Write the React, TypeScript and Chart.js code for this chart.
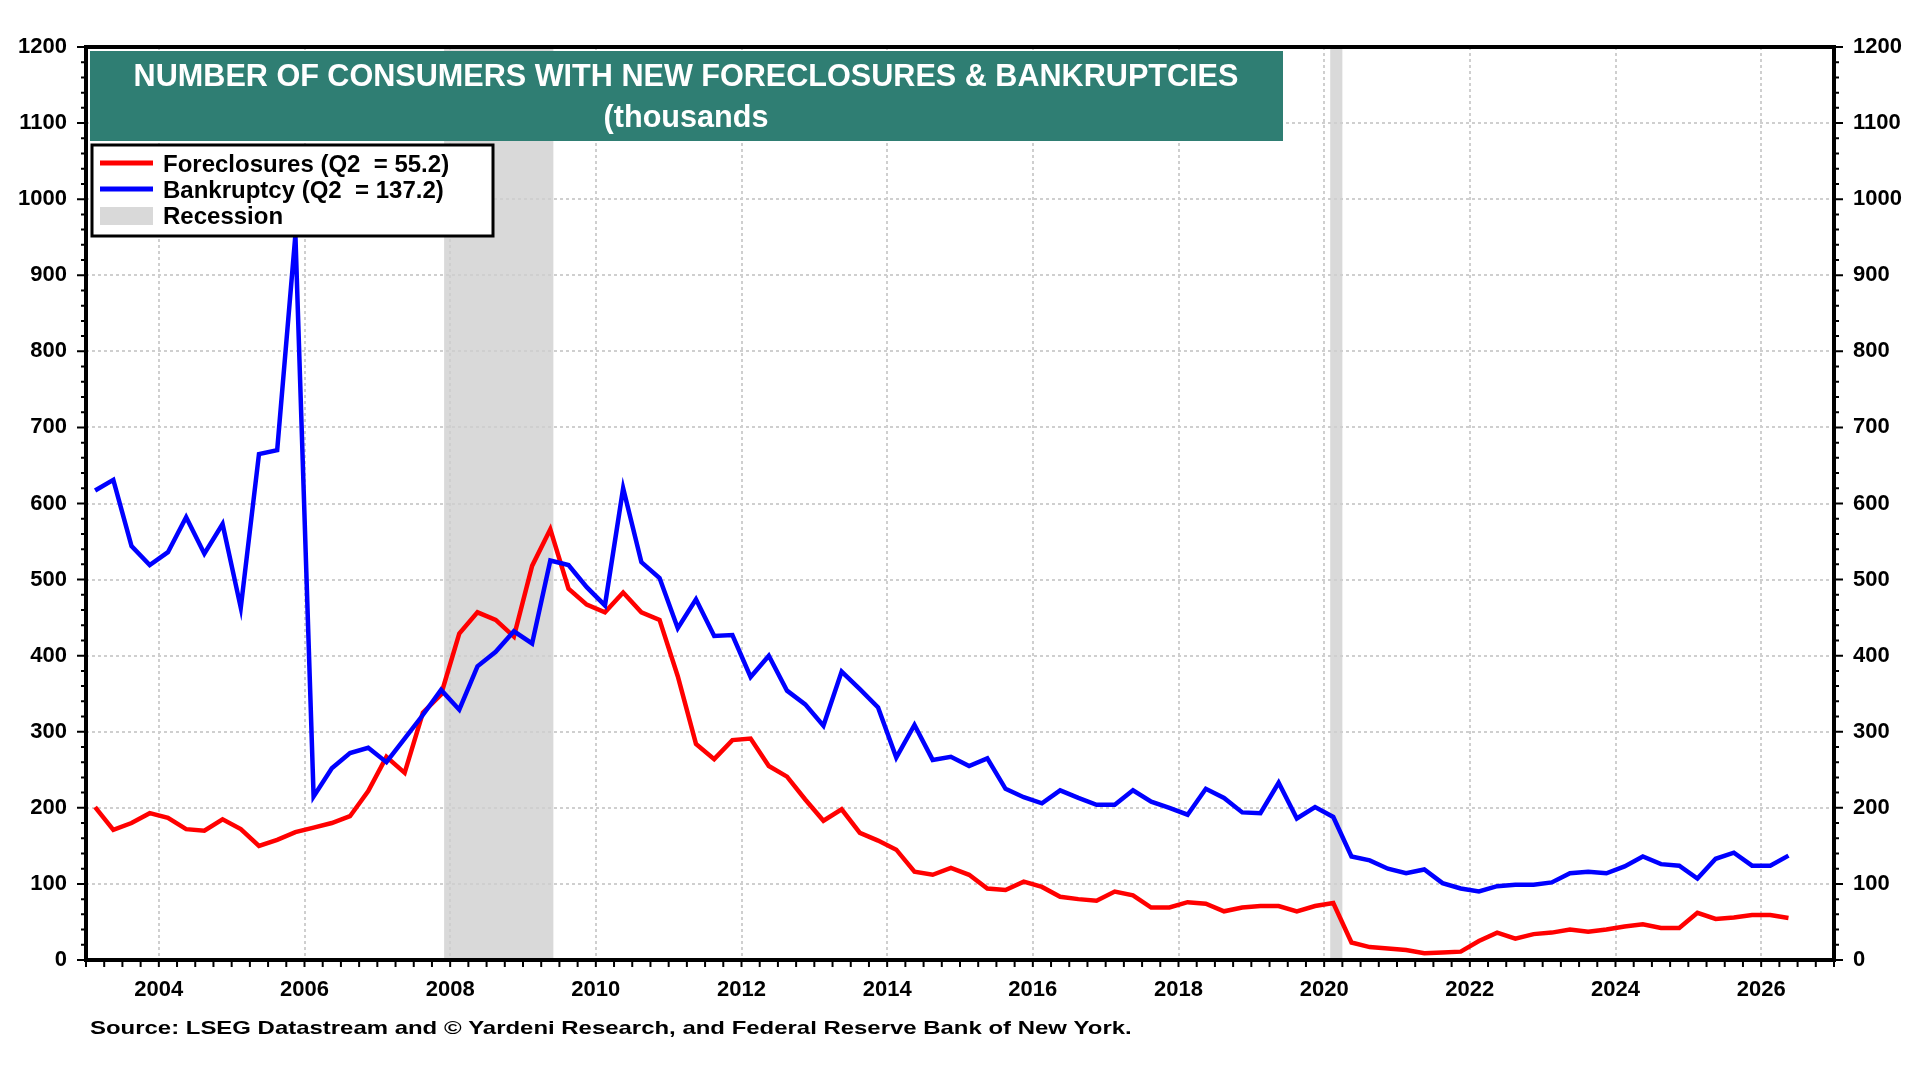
import React, { useEffect, useRef } from "react";
import { Chart, registerables } from "chart.js";

Chart.register(...registerables);

// quarterly observations, 2003Q1 .. 2026Q2
const quarters: string[] = [];
for (let y = 2003; y <= 2026; y++) {
  for (let q = 1; q <= 4; q++) {
    if (y === 2026 && q > 2) break;
    quarters.push(`${y}Q${q}`);
  }
}

const foreclosures = [
  201, 171, 180, 193, 187, 172, 170, 185, 172, 150, 158, 168,
  174, 180, 189, 222, 267, 246, 325, 349, 429, 457, 447, 425,
  518, 566, 488, 467, 457, 483, 457, 447, 373, 284, 264, 289,
  291, 255, 241, 211, 183, 198, 167, 157, 145, 116, 112, 121,
  112, 94, 92, 103, 96, 83, 80, 78, 90, 85, 69, 69,
  76, 74, 64, 69, 71, 71, 64, 71, 75, 23, 17, 15,
  13, 9, 10, 11, 25, 36, 28, 34, 36, 40, 37, 40,
  44, 47, 42, 42, 62, 54, 56, 59, 59, 55.2,
];

const bankruptcy = [
  617, 631, 544, 519, 536, 582, 534, 573, 463, 665, 670, 953,
  215, 252, 272, 279, 260, 291, 322, 355, 329, 386, 405, 432,
  416, 525, 519, 490, 466, 620, 523, 502, 436, 474, 426, 427,
  372, 400, 354, 336, 308, 379, 356, 332, 266, 309, 263, 267,
  255, 265, 225, 214, 206, 223, 213, 204, 204, 223, 208, 200,
  191, 225, 213, 194, 193, 233, 186, 201, 188, 136, 131, 120,
  114, 119, 101, 94, 90, 97, 99, 99, 102, 114, 116, 114,
  123, 136, 126, 124, 107, 133, 141, 124, 124, 137.2,
];

const xTickYears = [2004, 2006, 2008, 2010, 2012, 2014, 2016, 2018, 2020, 2022, 2024, 2026];
const recessionStart = [2007.917, 2020.083];
const recessionEnd = [2009.417, 2020.25];

const TITLE_1 = "NUMBER OF CONSUMERS WITH NEW FORECLOSURES & BANKRUPTCIES";
const TITLE_2 = "(thousands";
const LEGEND = ["Foreclosures (Q2  = 55.2)", "Bankruptcy (Q2  = 137.2)", "Recession"];
const SOURCE = "Source: LSEG Datastream and \u00a9 Yardeni Research, and Federal Reserve Bank of New York.";

const FONT = "'Liberation Sans', Arial, sans-serif";
const GRID = "#cfcfcf";
const RED = "#ff0000";
const BLUE = "#0000ff";
const SHADE = "#d9d9d9";
const TEAL = "#2f7e73";

function quarterToYear(s: string): number {
  const [y, q] = s.split("Q").map(Number);
  return y + (q - 1) * 0.25 + 0.125;
}

const decor = {
  id: "decor",
  beforeDraw(chart: any) {
    const { ctx, chartArea: a, scales } = chart;
    ctx.save();
    ctx.fillStyle = SHADE;
    recessionStart.forEach((s, k) => {
      const x1 = scales.x.getPixelForValue(s);
      const x2 = scales.x.getPixelForValue(recessionEnd[k]);
      ctx.fillRect(x1, a.top, x2 - x1, a.bottom - a.top);
    });
    ctx.restore();
  },
  afterDatasetsDraw(chart: any) {
    const { ctx, chartArea: a, scales } = chart;
    ctx.save();
    ctx.strokeStyle = "#000";
    // minor / major ticks
    ctx.lineWidth = 2;
    ctx.beginPath();
    for (let v = 0; v <= 1200; v += 20) {
      const y = scales.y.getPixelForValue(v);
      const len = v % 100 === 0 ? 9 : 5;
      ctx.moveTo(a.left - len, y);
      ctx.lineTo(a.left, y);
      ctx.moveTo(a.right, y);
      ctx.lineTo(a.right + len, y);
    }
    for (let t = 2003; t <= 2027; t += 0.25) {
      const x = scales.x.getPixelForValue(t);
      ctx.moveTo(x, a.bottom);
      ctx.lineTo(x, a.bottom + 7);
    }
    ctx.stroke();
    ctx.lineWidth = 4;
    ctx.strokeRect(a.left, a.top, a.right - a.left, a.bottom - a.top);
    ctx.restore();
  },
  afterDraw(chart: any) {
    const { ctx } = chart;
    ctx.save();
    // title box
    ctx.fillStyle = TEAL;
    ctx.fillRect(90, 51, 1193, 90);
    ctx.fillStyle = "#fff";
    ctx.textAlign = "center";
    ctx.textBaseline = "middle";
    ctx.font = `bold 30.6px ${FONT}`;
    ctx.fillText(TITLE_1, 686, 78);
    ctx.fillText(TITLE_2, 686, 119);

    // legend
    ctx.fillStyle = "#fff";
    ctx.fillRect(92, 145, 401, 91);
    ctx.strokeStyle = "#000";
    ctx.lineWidth = 3;
    ctx.strokeRect(92, 145, 401, 91);
    const rows = [163, 189, 215];
    ctx.lineWidth = 5;
    ctx.strokeStyle = RED;
    ctx.beginPath();
    ctx.moveTo(100, rows[0]);
    ctx.lineTo(153, rows[0]);
    ctx.stroke();
    ctx.strokeStyle = BLUE;
    ctx.beginPath();
    ctx.moveTo(100, rows[1]);
    ctx.lineTo(153, rows[1]);
    ctx.stroke();
    ctx.fillStyle = SHADE;
    ctx.fillRect(100, 207, 53, 18);
    ctx.fillStyle = "#000";
    ctx.textAlign = "left";
    ctx.font = `bold 24px ${FONT}`;
    LEGEND.forEach((t, i) => ctx.fillText(t, 163, rows[i] + 2));

    // source
    ctx.font = `bold 19px ${FONT}`;
    ctx.translate(90, 1029);
    ctx.scale(1.26, 1);
    ctx.fillText(SOURCE, 0, 0);
    ctx.restore();
  },
};

const tickFont = { family: FONT, size: 22, weight: "bold" as const };

export default function App() {
  const canvasRef = useRef<HTMLCanvasElement>(null);

  useEffect(() => {
    document.body.style.margin = "0";
    if (!canvasRef.current) return;
    const xs = quarters.map(quarterToYear);

    const chart = new Chart(canvasRef.current, {
      type: "line",
      data: {
        datasets: [
          {
            label: "Bankruptcy",
            data: xs.map((x, i) => ({ x, y: bankruptcy[i] })),
            borderColor: BLUE,
            borderWidth: 4.5,
            pointRadius: 0,
            tension: 0,
            order: 0,
          },
          {
            label: "Foreclosures",
            data: xs.map((x, i) => ({ x, y: foreclosures[i] })),
            borderColor: RED,
            borderWidth: 4.5,
            pointRadius: 0,
            tension: 0,
            order: 1,
          },
        ],
      },
      options: {
        responsive: false,
        animation: false,
        devicePixelRatio: 1,
        layout: { padding: { top: 47, left: 0, right: 0, bottom: 0 } },
        plugins: {
          legend: { display: false },
          tooltip: { enabled: false },
        },
        scales: {
          x: {
            type: "linear",
            min: 2003,
            max: 2027,
            afterBuildTicks: (s: any) => {
              s.ticks = xTickYears.map((v) => ({ value: v }));
            },
            afterFit: (s: any) => {
              s.height = 120;
            },
            grid: { color: GRID, lineWidth: 2, drawTicks: false },
            border: { display: false, dash: [3, 3] },
            ticks: {
              padding: 17,
              color: "#000",
              font: tickFont,
              maxRotation: 0,
              autoSkip: false,
              callback: (v: any) => String(v),
            },
          },
          y: {
            position: "left",
            min: 0,
            max: 1200,
            afterFit: (s: any) => {
              s.width = 86;
            },
            grid: { color: GRID, lineWidth: 2, drawTicks: false },
            border: { display: false, dash: [3, 3] },
            ticks: {
              stepSize: 100,
              padding: 19,
              color: "#000",
              font: tickFont,
              callback: (v: any) => String(v),
            },
          },
          y2: {
            position: "right",
            min: 0,
            max: 1200,
            afterFit: (s: any) => {
              s.width = 86;
            },
            grid: { drawOnChartArea: false, drawTicks: false },
            border: { display: false },
            ticks: {
              stepSize: 100,
              padding: 19,
              color: "#000",
              font: tickFont,
              callback: (v: any) => String(v),
            },
          },
        },
      },
      plugins: [decor],
    } as any);

    return () => chart.destroy();
  }, []);

  return <canvas ref={canvasRef} width={1920} height={1080} style={{ display: "block" }} />;
}
